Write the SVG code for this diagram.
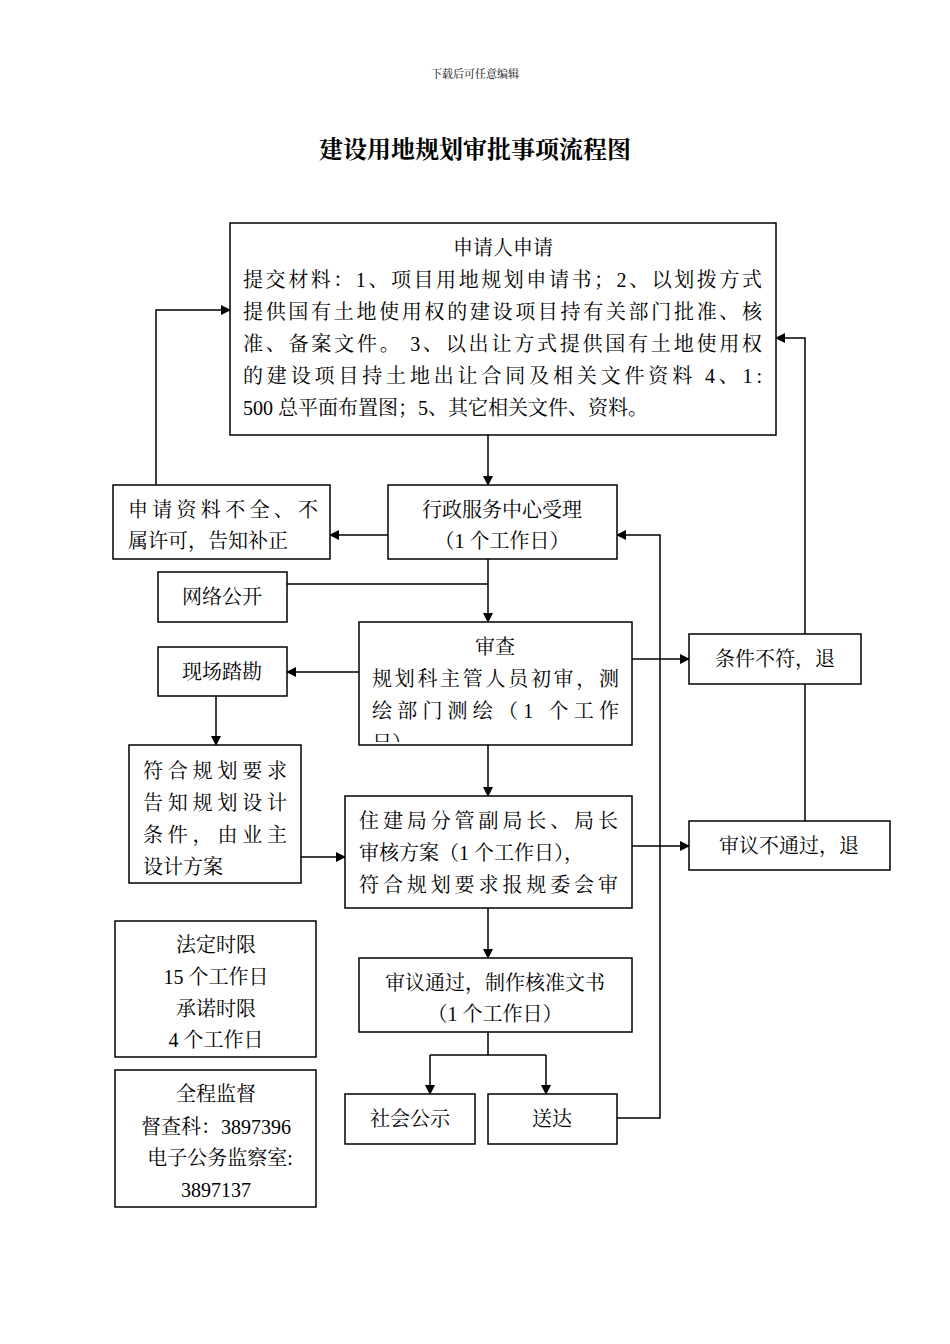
<svg xmlns="http://www.w3.org/2000/svg" width="950" height="1344" viewBox="0 0 950 1344">
<style>
.b{fill:#fff;stroke:#000;stroke-width:1.5}
.l{fill:none;stroke:#000;stroke-width:1.5}
text{font-family:"Liberation Serif","Noto Serif CJK SC","Noto Sans CJK SC",serif;font-size:20px;fill:#000}
.c{text-anchor:middle}
</style>
<defs>
<marker id="a" markerWidth="10" markerHeight="10" refX="9" refY="5" orient="auto" markerUnits="userSpaceOnUse"><path d="M0,0 L10,5 L0,10 z" fill="#000"/></marker>
<clipPath id="cp"><rect x="359" y="622" width="273" height="120"/></clipPath>
</defs>
<rect width="950" height="1344" fill="#fff"/>
<text x="475" y="78" class="c" style="font-size:11px">下载后可任意编辑</text>
<text x="475" y="158" class="c" style="font-size:24px;font-weight:bold">建设用地规划审批事项流程图</text>
<g id="connectors">
<path class="l" d="M488,435 V485" marker-end="url(#a)"/>
<path class="l" d="M388,535 H330" marker-end="url(#a)"/>
<path class="l" d="M156,485 V310 H230" marker-end="url(#a)"/>
<path class="l" d="M287,584 H488"/>
<path class="l" d="M488,559 V622" marker-end="url(#a)"/>
<path class="l" d="M359,672 H287" marker-end="url(#a)"/>
<path class="l" d="M216,696 V745" marker-end="url(#a)"/>
<path class="l" d="M301,857 H345" marker-end="url(#a)"/>
<path class="l" d="M488,745 V796" marker-end="url(#a)"/>
<path class="l" d="M632,659 H689" marker-end="url(#a)"/>
<path class="l" d="M632,846 H689" marker-end="url(#a)"/>
<path class="l" d="M805,821 V684"/>
<path class="l" d="M805,634 V338 H776" marker-end="url(#a)"/>
<path class="l" d="M617,1118 H660 V535 H617" marker-end="url(#a)"/>
<path class="l" d="M488,908 V958" marker-end="url(#a)"/>
<path class="l" d="M488,1032 V1055 M430,1055 H546"/>
<path class="l" d="M430,1055 V1094" marker-end="url(#a)"/>
<path class="l" d="M546,1055 V1094" marker-end="url(#a)"/>
</g>
<g id="n1"><rect class="b" x="230" y="223" width="546" height="212"/>
<text x="503" y="255" class="c">申请人申请</text>
<text x="243" y="287" textLength="519" lengthAdjust="spacing">提交材料：1、项目用地规划申请书；2、以划拨方式</text>
<text x="243" y="319" textLength="519" lengthAdjust="spacing">提供国有土地使用权的建设项目持有关部门批准、核</text>
<text x="243" y="351" textLength="519" lengthAdjust="spacing">准、备案文件。 3、以出让方式提供国有土地使用权</text>
<text x="243" y="383" textLength="519" lengthAdjust="spacing">的建设项目持土地出让合同及相关文件资料 4、1:</text>
<text x="243" y="415">500 总平面布置图；5、其它相关文件、资料。</text></g>
<g id="n2"><rect class="b" x="388" y="485" width="229" height="74"/>
<text x="502" y="517" class="c">行政服务中心受理</text><text x="502" y="548" class="c">（1 个工作日）</text></g>
<g id="n3"><rect class="b" x="113" y="485" width="217" height="74"/>
<text x="128" y="517" textLength="190" lengthAdjust="spacing">申请资料不全、不</text><text x="128" y="548">属许可，告知补正</text></g>
<g id="n4"><rect class="b" x="158" y="572" width="129" height="50"/><text x="222" y="604" class="c">网络公开</text></g>
<g id="n5"><rect class="b" x="359" y="622" width="273" height="123"/>
<text x="495" y="654" class="c">审查</text>
<text x="372" y="686" textLength="247" lengthAdjust="spacing">规划科主管人员初审，测</text>
<text x="372" y="718" textLength="247" lengthAdjust="spacing">绘部门测绘（1 个工作</text>
<text x="372" y="750" clip-path="url(#cp)">日）</text></g>
<g id="n6"><rect class="b" x="158" y="647" width="129" height="49"/><text x="222" y="679" class="c">现场踏勘</text></g>
<g id="n7"><rect class="b" x="129" y="745" width="172" height="138"/>
<text x="143" y="778" textLength="144" lengthAdjust="spacing">符合规划要求</text>
<text x="143" y="810" textLength="144" lengthAdjust="spacing">告知规划设计</text>
<text x="143" y="842" textLength="144" lengthAdjust="spacing">条件，由业主</text>
<text x="143" y="874">设计方案</text></g>
<g id="n8"><rect class="b" x="345" y="796" width="287" height="112"/>
<text x="359" y="828" textLength="259" lengthAdjust="spacing">住建局分管副局长、局长</text>
<text x="359" y="860">审核方案（1 个工作日），</text>
<text x="359" y="892" textLength="259" lengthAdjust="spacing">符合规划要求报规委会审</text></g>
<g id="n9"><rect class="b" x="689" y="634" width="172" height="50"/><text x="775" y="666" class="c">条件不符，退</text></g>
<g id="n10"><rect class="b" x="689" y="821" width="201" height="49"/><text x="789" y="853" class="c">审议不通过，退</text></g>
<g id="n11"><rect class="b" x="359" y="958" width="273" height="74"/>
<text x="495" y="990" class="c">审议通过，制作核准文书</text><text x="495" y="1021" class="c">（1 个工作日）</text></g>
<g id="n12"><rect class="b" x="345" y="1094" width="130" height="50"/><text x="410" y="1126" class="c">社会公示</text></g>
<g id="n13"><rect class="b" x="488" y="1094" width="129" height="50"/><text x="552" y="1126" class="c">送达</text></g>
<g id="n14"><rect class="b" x="115" y="921" width="201" height="136"/>
<text x="216" y="952" class="c">法定时限</text><text x="216" y="984" class="c">15 个工作日</text>
<text x="216" y="1016" class="c">承诺时限</text><text x="216" y="1047" class="c">4 个工作日</text></g>
<g id="n15"><rect class="b" x="115" y="1070" width="201" height="137"/>
<text x="216" y="1101" class="c">全程监督</text><text x="216" y="1134" class="c">督查科：3897396</text>
<text x="220" y="1165" class="c">电子公务监察室:</text><text x="216" y="1197" class="c">3897137</text></g>
</svg>
